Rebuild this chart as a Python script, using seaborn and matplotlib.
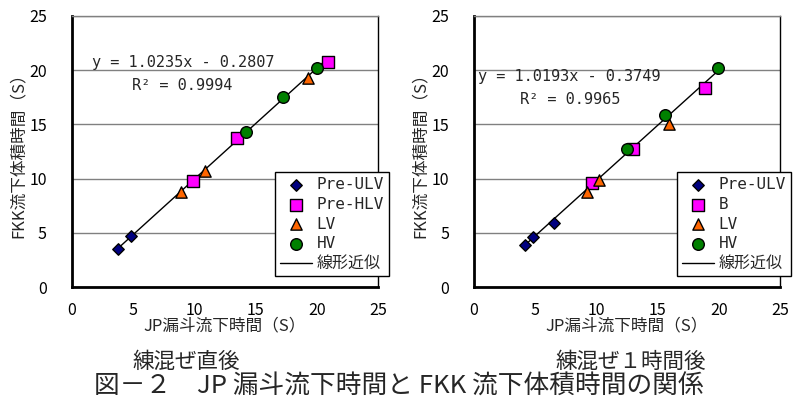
import matplotlib
matplotlib.use('Agg')
import matplotlib.pyplot as plt
import seaborn as sns
import numpy as np
import pandas as pd

# 練混ぜ直後
left_preulv_x = [3.8, 4.8]
left_preulv_y = [3.5, 4.7]
left_prehlv_x = [9.9, 13.5, 20.9]
left_prehlv_y = [9.8, 13.7, 20.8]
left_lv_x = [8.9, 10.9, 19.3]
left_lv_y = [8.8, 10.7, 19.3]
left_hv_x = [14.2, 17.2, 20.0]
left_hv_y = [14.3, 17.5, 20.2]
left_coef = (1.0235, -0.2807)
left_r2 = 0.9994

# 練混ぜ1時間後
right_preulv_x = [4.2, 4.85, 6.5]
right_preulv_y = [3.9, 4.6, 5.9]
right_b_x = [9.6, 13.0, 18.9]
right_b_y = [9.6, 12.7, 18.4]
right_lv_x = [9.2, 10.2, 15.9]
right_lv_y = [8.8, 9.9, 15.0]
right_hv_x = [12.5, 15.6, 19.9]
right_hv_y = [12.7, 15.9, 20.2]
right_coef = (1.0193, -0.3749)
right_r2 = 0.9965

ticks = [0, 5, 10, 15, 20, 25]

sns.set_theme(style='white')
plt.rcParams['font.family'] = ['Noto Sans CJK JP', 'DejaVu Sans']
MONO = ['DejaVu Sans Mono', 'Noto Sans CJK JP']

fig = plt.figure(figsize=(7.98, 4.03), dpi=100)
ax1 = fig.add_axes([0.0902, 0.2878, 0.3835, 0.6725])
ax2 = fig.add_axes([0.594, 0.2878, 0.3835, 0.6725])


def draw(ax, groups, coef, r2, eq_pos, r2_pos):
	# 系列ごとに散布図
	for name, xs, ys, mk, col, s in groups:
		sns.scatterplot(x=xs, y=ys, ax=ax, marker=mk, color=col, s=s,
						edgecolor='black', linewidth=1, label=name, zorder=3)
	# 線形近似 (Excelのトレンドライン)
	allx = np.concatenate([g[1] for g in groups])
	lx = np.array([allx.min(), allx.max()])
	df = pd.DataFrame({'x': lx, 'y': coef[0] * lx + coef[1]})
	sns.lineplot(data=df, x='x', y='y', ax=ax, color='black', linewidth=1,
				 label='線形近似', zorder=2)

	ax.set_xlim(0, 25)
	ax.set_ylim(0, 25)
	ax.set_xticks(ticks)
	ax.set_yticks(ticks)
	ax.yaxis.grid(True, color='#808080', linewidth=1)
	ax.xaxis.grid(False)
	ax.tick_params(axis='both', direction='in', length=4, width=1, color='black',
				   labelsize=11.5, colors='black')
	ax.tick_params(axis='y', pad=18)
	ax.tick_params(axis='x', pad=11)
	for k in ['left', 'bottom']:
		ax.spines[k].set_color('black')
		ax.spines[k].set_linewidth(2)
	ax.spines['right'].set_color('black')
	ax.spines['right'].set_linewidth(1)
	ax.spines['top'].set_color('#808080')
	ax.spines['top'].set_linewidth(1)

	ax.set_xlabel('JP漏斗流下時間（S）', fontsize=12, labelpad=-1)
	ax.set_ylabel('FKK流下体積時間（S）', fontsize=12, labelpad=2)

	# 凡例 線形近似を最後に
	h, l = ax.get_legend_handles_labels()
	order = [l.index(g[0]) for g in groups] + [l.index('線形近似')]
	leg = ax.legend([h[i] for i in order], [l[i] for i in order],
					loc='lower right', bbox_to_anchor=(1.035, 0.041),
					borderaxespad=0, frameon=True, fancybox=False,
					framealpha=1, edgecolor='black', handlelength=2.0,
					handletextpad=0.3, labelspacing=0.3, borderpad=0.3,
					prop={'family': MONO, 'size': 11.5})
	leg.get_frame().set_linewidth(1)
	leg.set_zorder(5)

	fig.text(eq_pos[0], eq_pos[1], 'y = %.4fx - %.4f' % (coef[0], -coef[1]),
			 family=MONO, fontsize=11, va='center', ha='left')
	fig.text(r2_pos[0], r2_pos[1], 'R² = %.4f' % r2,
			 family=MONO, fontsize=11, va='center', ha='left')


draw(ax1,
	 [('Pre-ULV', left_preulv_x, left_preulv_y, 'D', '#000080', 34),
	  ('Pre-HLV', left_prehlv_x, left_prehlv_y, 's', '#FF00FF', 66),
	  ('LV', left_lv_x, left_lv_y, '^', '#FF6600', 66),
	  ('HV', left_hv_x, left_hv_y, 'o', '#008000', 70)],
	 left_coef, left_r2, (92 / 798, 1 - 62 / 403), (132 / 798, 1 - 85 / 403))

draw(ax2,
	 [('Pre-ULV', right_preulv_x, right_preulv_y, 'D', '#000080', 34),
	  ('B', right_b_x, right_b_y, 's', '#FF00FF', 66),
	  ('LV', right_lv_x, right_lv_y, '^', '#FF6600', 66),
	  ('HV', right_hv_x, right_hv_y, 'o', '#008000', 70)],
	 right_coef, right_r2, (478 / 798, 1 - 77 / 403), (520 / 798, 1 - 100 / 403))

fig.text(186 / 798, 1 - 362 / 403, '練混ぜ直後', fontsize=15.5, ha='center', va='center')
fig.text(631 / 798, 1 - 362 / 403, '練混ぜ１時間後', fontsize=15.5, ha='center', va='center')
fig.text(0.5, 1 - 387 / 403, '図－２　JP 漏斗流下時間と FKK 流下体積時間の関係',
		 fontsize=18.5, ha='center', va='center')

fig.savefig('out.png', dpi=100)
